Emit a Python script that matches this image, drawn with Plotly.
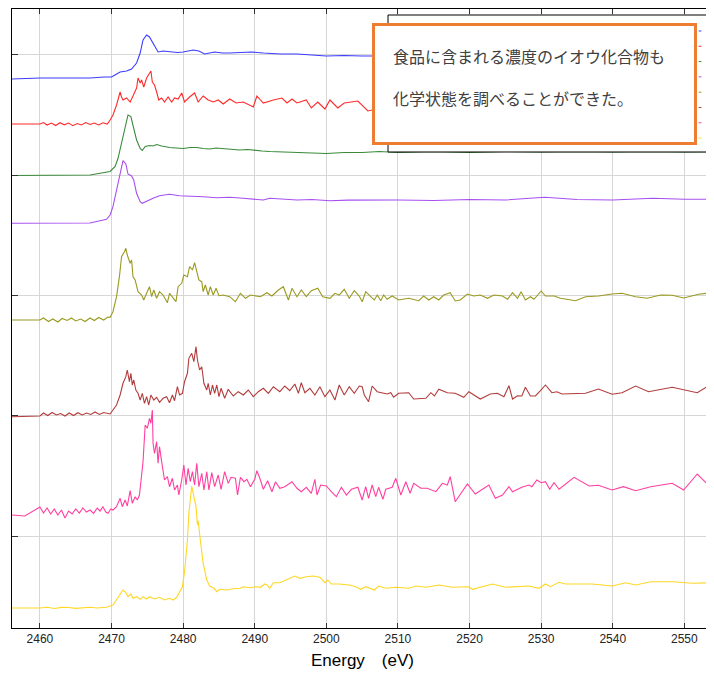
import plotly.graph_objects as go

# ---------------- data (energy in eV, normalised intensity above each pre-edge baseline) ----------
NAMES = ["試料1", "試料2", "試料3", "試料4", "試料5", "試料6", "試料7", "試料8"]
COLORS = ["#3c3cff", "#ff2a2a", "#3a8a3a", "#a64ff0", "#9a9a22", "#b23c3c", "#ff3fa0", "#ffd726"]
OFFSETS = [5.50, 5.04, 4.525, 4.047, 3.08, 2.12, 1.17, 0.20]

E1 = [2456, 2460, 2464, 2467, 2469, 2470, 2470.6, 2471.2, 2472.1, 2472.8, 2473.5, 2474.0, 2474.4,
      2474.9, 2475.3, 2476.0, 2476.5, 2477.2, 2477.8, 2478.4, 2479.2, 2480.0, 2481.4, 2482.2, 2483.0,
      2484.4, 2485.5, 2486.5, 2487.5, 2489.5, 2491.2, 2492.4, 2493.6, 2495.9, 2497.5, 2500.0,
      2502.5, 2505.0, 2510, 2520, 2530, 2540, 2550, 2554]
I1 = [-0.01, 0.0, 0.0, 0.0, 0.01, 0.01, 0.035, 0.06, 0.07, 0.09, 0.15, 0.25, 0.38,
      0.43, 0.41, 0.33, 0.26, 0.27, 0.265, 0.26, 0.255, 0.26, 0.28, 0.27, 0.24,
      0.26, 0.25, 0.25, 0.255, 0.26, 0.25, 0.245, 0.24, 0.24, 0.23, 0.22,
      0.225, 0.22, 0.22, 0.23, 0.235, 0.24, 0.245, 0.25]

E2 = [2456, 2460, 2460.5, 2461, 2461.6, 2462.2, 2462.8, 2463.4, 2464, 2464.6, 2465.2, 2465.8, 2466.4,
      2467, 2467.6, 2468.2, 2468.8, 2469.4, 2469.8, 2470.2, 2470.7, 2471.2, 2471.4, 2471.6, 2472.1,
      2472.6, 2473.0, 2473.5, 2473.7, 2474.0, 2474.2, 2474.5, 2474.9, 2475.3, 2475.5, 2475.7, 2476.0,
      2476.3, 2476.6, 2477.0, 2477.4, 2477.9, 2478.4, 2478.8, 2479.3, 2479.8, 2480.2, 2480.9, 2481.6,
      2482.1, 2482.8, 2483.5, 2484.2, 2484.9, 2485.6, 2486.5, 2487.4, 2488.4, 2489.8, 2490.3, 2491.2,
      2492.6, 2493.8, 2494.5, 2495.2, 2495.9, 2497.2, 2497.9, 2498.8, 2499.8, 2500.5, 2501.6, 2502.5,
      2504.4, 2505.0, 2505.8, 2510, 2520, 2530, 2540, 2550, 2554]
I2 = [0.0, 0.0, 0.015, -0.01, 0.01, -0.015, 0.013, -0.008, 0.01, -0.017, 0.005, -0.01, 0.015,
      -0.005, 0.01, -0.01, 0.012, 0.0, 0.04, 0.09, 0.19, 0.32, 0.27, 0.24, 0.26,
      0.22, 0.28, 0.36, 0.46, 0.41, 0.44, 0.37, 0.46, 0.51, 0.53, 0.42, 0.39,
      0.32, 0.24, 0.26, 0.22, 0.27, 0.22, 0.26, 0.25, 0.31, 0.22, 0.27, 0.31,
      0.22, 0.28, 0.24, 0.22, 0.24, 0.20, 0.25, 0.21, 0.22, 0.17, 0.28, 0.21,
      0.24, 0.26, 0.21, 0.25, 0.21, 0.24, 0.16, 0.22, 0.15, 0.24, 0.16, 0.21,
      0.23, 0.19, 0.13, 0.20, 0.22, 0.19, 0.21, 0.20, 0.22]

E3 = [2456, 2462, 2467, 2469.8, 2470.5, 2470.9, 2471.4, 2471.9, 2472.3, 2472.7, 2473.0, 2473.5,
      2474.0, 2474.3, 2474.7, 2475.3, 2475.8, 2476.3, 2477.0, 2477.6, 2478.1, 2479.0, 2480.0, 2481.0,
      2481.9, 2482.8, 2483.7, 2484.6, 2485.6, 2486.8, 2487.9, 2489.0, 2490.0, 2491.0, 2492.1, 2494.0,
      2495.9, 2498.0, 2500.0, 2502.5, 2505.0, 2507.4, 2510, 2515, 2520, 2525, 2530, 2535, 2540,
      2545, 2550, 2554]
I3 = [0.0, 0.0, 0.005, 0.04, 0.09, 0.17, 0.32, 0.49, 0.605, 0.59, 0.49, 0.355,
      0.27, 0.25, 0.29, 0.30, 0.295, 0.31, 0.295, 0.285, 0.28, 0.275, 0.27, 0.28,
      0.28, 0.27, 0.265, 0.275, 0.27, 0.26, 0.255, 0.26, 0.25, 0.245, 0.24, 0.235,
      0.23, 0.225, 0.22, 0.23, 0.23, 0.24, 0.23, 0.24, 0.23, 0.24, 0.235, 0.24, 0.235,
      0.24, 0.235, 0.24]

E4 = [2456, 2462, 2467, 2469.3, 2469.8, 2470.2, 2470.7, 2471.2, 2471.6, 2472.0, 2472.3, 2472.8,
      2473.1, 2473.5, 2474.0, 2474.3, 2474.9, 2475.8, 2476.7, 2478.1, 2479.5, 2480.9, 2482.8, 2484.7,
      2486.5, 2488.4, 2490.2, 2491.2, 2492.1, 2494.0, 2495.9, 2498.0, 2500.5, 2503.0, 2505, 2510,
      2515, 2520, 2525, 2530.5, 2535, 2540, 2545.6, 2550, 2554]
I4 = [0.0, 0.0, 0.003, 0.04, 0.083, 0.166, 0.333, 0.516, 0.626, 0.593, 0.493, 0.473,
      0.433, 0.30, 0.216, 0.20, 0.223, 0.25, 0.276, 0.29, 0.276, 0.273, 0.266, 0.256,
      0.26, 0.25, 0.243, 0.233, 0.25, 0.24, 0.233, 0.238, 0.226, 0.232, 0.233, 0.233,
      0.228, 0.238, 0.233, 0.26, 0.238, 0.233, 0.25, 0.24, 0.24]

E5 = [2456, 2460, 2460.5, 2461.2, 2461.8, 2462.5, 2463.1, 2463.8, 2464.4, 2465, 2465.7, 2466.3,
      2467, 2467.6, 2468.2, 2468.9, 2469.5, 2469.8, 2470.2, 2470.7, 2471.1, 2471.4, 2471.8, 2472.0,
      2472.2, 2472.4, 2472.6, 2472.8, 2473.0, 2473.3, 2473.7, 2474.2, 2474.5, 2474.9, 2475.3, 2475.6,
      2475.9, 2476.3, 2476.7, 2477.2, 2477.8, 2478.1, 2478.6, 2479.0, 2479.3, 2479.8, 2480.1, 2480.6,
      2480.9, 2481.3, 2481.6, 2481.9, 2482.2, 2482.6, 2482.8, 2483.1, 2483.5, 2483.8, 2484.2, 2484.6,
      2485.0, 2485.6, 2486.5, 2487.3, 2488.0, 2488.7, 2489.4, 2490.8, 2491.7, 2492.4, 2493.3, 2494.0,
      2494.7, 2495.2, 2495.9, 2496.5, 2497.2, 2497.9, 2498.8, 2499.5, 2500.5, 2501.2, 2501.8, 2502.5,
      2503.2, 2503.9, 2504.6, 2505.0, 2505.5, 2506.2, 2506.7, 2507.1, 2507.6, 2508.0, 2508.5, 2509.2,
      2510.1, 2511.5, 2512.2, 2512.9, 2513.6, 2514.3, 2515.0, 2515.7, 2516.4, 2517.3, 2518.0, 2518.7,
      2519.7, 2520.6, 2521.5, 2522.5, 2523.4, 2524.6, 2525.3, 2526.0, 2526.7, 2527.2, 2527.8, 2528.5,
      2529.0, 2530.0, 2530.6, 2531.8, 2532.7, 2534.8, 2536.2, 2538.0, 2539.9, 2541.3, 2543.2, 2544.8,
      2546.7, 2548.3, 2549.9, 2552.0, 2553.8]
I5 = [0.0, 0.0, 0.02, -0.015, 0.01, -0.02, 0.015, -0.005, 0.02, -0.01, 0.01, -0.015,
      0.02, -0.005, 0.025, 0.0, 0.03, 0.027, 0.083, 0.233, 0.433, 0.633, 0.683, 0.717,
      0.65, 0.60, 0.567, 0.60, 0.433, 0.40, 0.283, 0.25, 0.20, 0.267, 0.333, 0.233,
      0.30, 0.217, 0.283, 0.25, 0.173, 0.267, 0.217, 0.183, 0.333, 0.367, 0.45, 0.433,
      0.533, 0.50, 0.573, 0.483, 0.40, 0.383, 0.283, 0.35, 0.25, 0.333, 0.25, 0.317,
      0.243, 0.25, 0.233, 0.183, 0.267, 0.217, 0.25, 0.233, 0.273, 0.24, 0.30, 0.333,
      0.20, 0.317, 0.233, 0.30, 0.233, 0.293, 0.317, 0.233, 0.217, 0.267, 0.25, 0.307,
      0.217, 0.293, 0.24, 0.183, 0.283, 0.233, 0.20, 0.25, 0.193, 0.25, 0.207, 0.24,
      0.20, 0.217, 0.207, 0.193, 0.24, 0.20, 0.233, 0.20, 0.25, 0.273, 0.19, 0.20,
      0.26, 0.24, 0.25, 0.217, 0.25, 0.24, 0.207, 0.273, 0.217, 0.283, 0.20, 0.233,
      0.207, 0.29, 0.24, 0.24, 0.217, 0.193, 0.233, 0.24, 0.26, 0.267, 0.233, 0.217,
      0.25, 0.247, 0.22, 0.257, 0.273]

E6 = [2456, 2460, 2460.5, 2461.1, 2461.7, 2462.3, 2462.9, 2463.5, 2464.1, 2464.7, 2465.3, 2465.9,
      2466.5, 2467.1, 2467.7, 2468.3, 2468.9, 2469.5, 2469.8, 2470.2, 2470.7, 2471.2, 2471.6, 2472.0,
      2472.2, 2472.5, 2472.7, 2472.9, 2473.1, 2473.4, 2473.7, 2474.0, 2474.3, 2474.6, 2474.9, 2475.2,
      2475.5, 2475.9, 2476.3, 2476.7, 2477.2, 2477.7, 2478.1, 2478.5, 2478.8, 2479.2, 2479.5, 2479.9,
      2480.2, 2480.6, 2480.8, 2481.2, 2481.5, 2481.8, 2482.0, 2482.3, 2482.6, 2482.9, 2483.3, 2483.5,
      2483.8, 2484.1, 2484.4, 2484.7, 2485.0, 2485.3, 2485.8, 2486.3, 2487.0, 2487.7, 2488.4, 2489.1,
      2489.8, 2490.5, 2491.2, 2491.9, 2492.6, 2493.5, 2494.2, 2494.9, 2495.6, 2496.1, 2496.5, 2497.0,
      2497.7, 2498.4, 2499.1, 2499.8, 2500.5, 2501.2, 2501.8, 2502.5, 2503.2, 2503.9, 2504.6, 2505.0,
      2505.3, 2505.9, 2506.4, 2507.1, 2507.8, 2508.5, 2509.0, 2509.4, 2510.1, 2511.5, 2512.2, 2513.9,
      2514.6, 2515.1, 2515.7, 2516.9, 2518.0, 2519.2, 2519.9, 2521.5, 2522.9, 2523.9, 2524.8, 2525.5,
      2526.0, 2526.7, 2527.3, 2527.8, 2528.5, 2529.2, 2529.9, 2530.6, 2531.5, 2532.2, 2532.9, 2536.2,
      2538.0, 2539.9, 2541.3, 2543.2, 2545.0, 2548.3, 2551.8, 2553.6]
I6 = [-0.007, 0.0, 0.03, 0.005, 0.035, 0.01, 0.025, 0.0, 0.03, 0.005, 0.033, 0.01,
      0.03, 0.015, 0.04, 0.015, 0.035, 0.02, 0.02, 0.06, 0.11, 0.21, 0.327, 0.393,
      0.46, 0.343, 0.427, 0.31, 0.36, 0.26, 0.227, 0.16, 0.227, 0.127, 0.193, 0.11,
      0.21, 0.16, 0.187, 0.137, 0.177, 0.193, 0.133, 0.21, 0.153, 0.293, 0.21, 0.227,
      0.343, 0.427, 0.577, 0.627, 0.543, 0.693, 0.56, 0.46, 0.493, 0.327, 0.26, 0.327,
      0.21, 0.31, 0.227, 0.31, 0.193, 0.277, 0.177, 0.267, 0.20, 0.243, 0.21, 0.26,
      0.193, 0.243, 0.277, 0.227, 0.293, 0.243, 0.30, 0.253, 0.32, 0.227, 0.333, 0.233,
      0.277, 0.21, 0.293, 0.193, 0.26, 0.16, 0.31, 0.21, 0.293, 0.227, 0.30, 0.293,
      0.21, 0.143, 0.30, 0.243, 0.233, 0.22, 0.233, 0.187, 0.227, 0.233, 0.17, 0.177,
      0.233, 0.20, 0.267, 0.233, 0.227, 0.187, 0.243, 0.17, 0.22, 0.227, 0.193, 0.303,
      0.17, 0.203, 0.20, 0.287, 0.20, 0.20, 0.253, 0.31, 0.233, 0.243, 0.22, 0.227,
      0.27, 0.217, 0.233, 0.30, 0.243, 0.287, 0.233, 0.31]

E7 = [2456, 2457.9, 2460, 2460.5, 2461, 2461.5, 2462, 2462.5, 2463, 2463.5, 2464, 2464.5, 2465,
      2465.5, 2466, 2466.5, 2467, 2467.5, 2468, 2468.4, 2468.8, 2469.2, 2469.5, 2469.9, 2470.2,
      2470.7, 2471.2, 2471.5, 2471.9, 2472.2, 2472.6, 2472.9, 2473.3, 2473.6, 2473.9, 2474.2, 2474.4,
      2474.7, 2475.0, 2475.3, 2475.5, 2475.7, 2475.8, 2476.0, 2476.3, 2476.5, 2476.7, 2477.0, 2477.2,
      2477.4, 2477.8, 2478.1, 2478.5, 2478.8, 2479.2, 2479.4, 2479.8, 2480.1, 2480.4, 2480.7, 2481.0,
      2481.3, 2481.6, 2481.9, 2482.2, 2482.6, 2482.9, 2483.3, 2483.6, 2484.0, 2484.4, 2484.9, 2485.3,
      2485.8, 2486.3, 2486.7, 2487.3, 2487.6, 2488.0, 2488.5, 2488.9, 2489.4, 2490.0, 2490.3, 2490.8,
      2491.2, 2491.8, 2492.4, 2492.9, 2493.5, 2494.2, 2495.2, 2495.9, 2496.5, 2497.2, 2497.9, 2498.4,
      2498.7, 2499.2, 2500.0, 2500.7, 2501.4, 2502.1, 2502.8, 2503.5, 2504.4, 2505.0, 2505.5, 2505.9,
      2506.4, 2506.9, 2507.3, 2507.9, 2508.3, 2509.2, 2509.7, 2510.4, 2511.1, 2511.7, 2512.2, 2513.2,
      2514.1, 2515.3, 2516.2, 2516.9, 2517.3, 2518.0, 2519.7, 2520.8, 2521.8, 2522.7, 2523.6, 2524.6,
      2525.5, 2526.0, 2527.3, 2528.3, 2528.7, 2529.4, 2530.0, 2530.6, 2531.2, 2531.8, 2532.5, 2534.6,
      2536.7, 2538.0, 2539.9, 2541.5, 2543.2, 2545.3, 2548.3, 2549.9, 2551.8, 2553.8]
I7 = [-0.04, -0.05, 0.04, -0.02, 0.03, -0.03, 0.02, -0.04, 0.01, -0.07, 0.0, -0.03, 0.02,
      -0.02, 0.03, -0.01, 0.01, -0.023, 0.03, 0.0, 0.043, -0.01, -0.023, 0.02, 0.01,
      0.043, 0.127, 0.043, 0.11, 0.05, 0.203, 0.077, 0.143, 0.11, 0.16, 0.343, 0.493,
      0.86, 0.827, 0.927, 0.877, 1.01, 0.677, 0.577, 0.693, 0.477, 0.643, 0.493, 0.393,
      0.31, 0.343, 0.243, 0.327, 0.21, 0.26, 0.16, 0.31, 0.46, 0.26, 0.427, 0.293,
      0.393, 0.26, 0.477, 0.243, 0.377, 0.21, 0.393, 0.21, 0.383, 0.243, 0.36, 0.217,
      0.393, 0.277, 0.337, 0.327, 0.16, 0.337, 0.293, 0.317, 0.243, 0.317, 0.403, 0.31,
      0.217, 0.303, 0.193, 0.293, 0.227, 0.243, 0.293, 0.227, 0.193, 0.237, 0.177, 0.317,
      0.16, 0.26, 0.25, 0.193, 0.143, 0.237, 0.16, 0.217, 0.237, 0.11, 0.243, 0.127,
      0.26, 0.143, 0.237, 0.117, 0.217, 0.237, 0.327, 0.16, 0.293, 0.177, 0.277, 0.227,
      0.227, 0.193, 0.277, 0.26, 0.343, 0.093, 0.27, 0.17, 0.217, 0.26, 0.127, 0.16,
      0.243, 0.193, 0.237, 0.26, 0.243, 0.31, 0.283, 0.293, 0.217, 0.283, 0.217, 0.337,
      0.25, 0.257, 0.21, 0.243, 0.203, 0.243, 0.277, 0.21, 0.37, 0.227]

E8 = [2456, 2460, 2461, 2462, 2463, 2464, 2465, 2466, 2467, 2468, 2469.3, 2470.2, 2470.7, 2471.2,
      2471.6, 2472.0, 2472.3, 2472.7, 2473.0, 2473.5, 2474.0, 2474.4, 2474.9, 2475.3, 2476.0, 2476.7,
      2477.4, 2478.1, 2478.6, 2479.1, 2479.5, 2479.9, 2480.2, 2480.6, 2480.8, 2481.2, 2481.5, 2481.8,
      2482.0, 2482.1, 2482.4, 2482.8, 2483.3, 2483.7, 2484.3, 2484.7, 2485.1, 2486.0, 2487.0, 2488.0,
      2488.4, 2489.3, 2490.2, 2490.8, 2491.4, 2491.7, 2492.1, 2492.6, 2493.5, 2494.7, 2495.6, 2496.3,
      2497.2, 2498.2, 2499.1, 2499.8, 2500.2, 2500.7, 2501.8, 2503.2, 2504.1, 2504.8, 2505.5, 2506.7,
      2507.3, 2508.3, 2509.7, 2511.5, 2512.5, 2513.9, 2515.7, 2517.6, 2519.9, 2520.4, 2523.2, 2525.0,
      2528.3, 2529.7, 2530.6, 2531.3, 2532.5, 2533.4, 2537.1, 2539.9, 2541.8, 2543.2, 2545.3, 2548.3,
      2551.1, 2553.8]
I8 = [0.0, 0.0, 0.008, -0.005, 0.006, 0.005, -0.004, 0.004, 0.007, 0.0, 0.007, 0.03, 0.08, 0.14,
      0.18, 0.153, 0.113, 0.14, 0.097, 0.113, 0.087, 0.113, 0.09, 0.113, 0.09, 0.107,
      0.08, 0.097, 0.08, 0.107, 0.153, 0.213, 0.363, 0.68, 0.947, 1.22, 1.113, 1.013,
      0.83, 0.873, 0.68, 0.447, 0.28, 0.22, 0.197, 0.163, 0.187, 0.18, 0.193, 0.197,
      0.213, 0.203, 0.213, 0.207, 0.24, 0.23, 0.197, 0.253, 0.253, 0.287, 0.32, 0.297,
      0.313, 0.32, 0.307, 0.253, 0.28, 0.24, 0.24, 0.23, 0.213, 0.187, 0.213, 0.18,
      0.22, 0.197, 0.207, 0.197, 0.22, 0.207, 0.23, 0.207, 0.213, 0.187, 0.24, 0.207,
      0.22, 0.197, 0.24, 0.213, 0.257, 0.24, 0.24, 0.22, 0.253, 0.23, 0.263, 0.263,
      0.247, 0.253]

ENERGIES = [E1, E2, E3, E4, E5, E6, E7, E8]
INTENSITIES = [I1, I2, I3, I4, I5, I6, I7, I8]

X_TICKS = [2460, 2470, 2480, 2490, 2500, 2510, 2520, 2530, 2540, 2550]
NOTE_LINES = ["食品に含まれる濃度のイオウ化合物も", "化学状態を調べることができた。"]

# ---------------- figure ----------------
fig = go.Figure()
for name, color, off, ex, iy in zip(NAMES, COLORS, OFFSETS, ENERGIES, INTENSITIES):
    fig.add_trace(go.Scatter(
        x=ex, y=[off + v for v in iy], mode="lines", name=name,
        line=dict(color=color, width=1.1), showlegend=False,
    ))

# legend frame (labels hidden under the note in the original)
L_X0, L_X1, L_Y0, L_Y1 = 0.5364, 0.9914, 0.769, 0.9903
shapes = [dict(type="rect", xref="paper", yref="paper", x0=L_X0, x1=L_X1, y0=L_Y0, y1=L_Y1,
               line=dict(color="#000000", width=1), fillcolor="white", layer="above")]
for i, c in enumerate(COLORS):
    yy = 0.9645 - i * 0.02472
    shapes.append(dict(type="line", xref="paper", yref="paper", x0=0.9795, x1=0.9835,
                       y0=yy, y1=yy, line=dict(color=c, width=1), layer="above"))

# the page body has an 8 px margin, so the figure is 8 px smaller and margins shifted
fig.update_layout(
    width=706, height=667,
    margin=dict(l=4, r=1, t=1, b=47),
    paper_bgcolor="white", plot_bgcolor="white",
    font=dict(family="Liberation Sans, Arial, sans-serif", color="#222222"),
    shapes=shapes,
    annotations=[dict(
        xref="paper", yref="paper", x=0.5136, y=0.9774, xanchor="left", yanchor="top",
        text=NOTE_LINES[0] + "<br><br>" + NOTE_LINES[1],
        showarrow=False, align="left", valign="top",
        width=283, height=80, borderpad=18, borderwidth=3,
        bordercolor="#ED7D31", bgcolor="white",
        font=dict(family="Noto Sans CJK JP", size=16, color="#404040"),
    )],
)
fig.update_xaxes(
    range=[2456.1, 2554], tickvals=X_TICKS, ticks="inside", ticklen=5,
    tickcolor="#333333", showline=True, linecolor="#000000", linewidth=1, mirror="ticks",
    showgrid=True, gridcolor="#d6d6d6", gridwidth=1, zeroline=False,
    tickfont=dict(size=12, color="#222222"),
    title=dict(text="Energy\u3000(eV)", font=dict(size=17, color="#000000"), standoff=8),
)
fig.update_yaxes(
    range=[0, 6.19], tick0=0.92, dtick=1.203, ticks="inside", ticklen=6,
    tickcolor="#333333", showticklabels=False, showline=True, linecolor="#000000",
    linewidth=1, mirror="ticks", showgrid=True, gridcolor="#d6d6d6", gridwidth=1,
    zeroline=False,
)

fig.write_html("out.html")
